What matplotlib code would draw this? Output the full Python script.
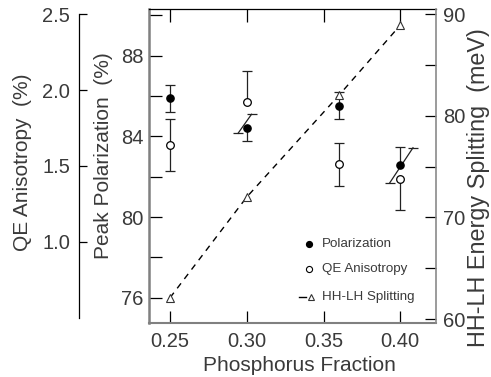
import numpy as np
import matplotlib
matplotlib.use("Agg")
import matplotlib.pyplot as plt
from matplotlib.ticker import FixedLocator

plt.rcParams['font.family'] = ['Liberation Sans', 'DejaVu Sans']

# ---------------- data ----------------
phosphorus = [0.25, 0.30, 0.36, 0.40]
polarization = [85.88, 84.43, 85.51, 82.58]
polarization_err = [0.66, 0.66, 0.66, 0.88]
qe_anisotropy = [1.64, 1.92, 1.51, 1.415]
qe_anisotropy_err = [0.17, 0.205, 0.14, 0.205]
splitting = [62.1, 72.0, 82.0, 88.9]

x_ticks = [0.25, 0.30, 0.35, 0.40]
x_tick_labels = ['0.25', '0.30', '0.35', '0.40']
pol_ticks = [76, 80, 84, 88]
pol_minor = [78, 82, 86, 90]
qe_ticks = [1.0, 1.5, 2.0, 2.5]
qe_tick_labels = ['1.0', '1.5', '2.0', '2.5']
split_ticks = [60, 70, 80, 90]
split_minor = [65, 75, 85]

legend_labels = ['Polarization', 'QE Anisotropy', 'HH-LH Splitting']

# ---------------- style ----------------
TXT = '#3a3a3a'
ERR = '#222222'
FS_TICK = 14.5
FS_LAB = 15
CAP = 6.5  # cap width in points
# which error-bar halves are drawn as a shared slanted segment
# (index, x-offset of lower end, x-offset of upper end)
slants = [(1, -0.0057, 0.0031), (3, -0.0068, 0.0083)]

fig = plt.figure(figsize=(4.91, 3.77), dpi=100)
ax = fig.add_axes([0.3035, 0.144, 0.5845, 0.832])
ax_r = ax.twinx()
ax_q = ax.twinx()

ax.set_xlim(0.2363, 0.4233)
ax.set_ylim(74.77, 90.30)
ax_r.set_ylim(59.64, 90.49)
ax_q.set_ylim(0.467, 2.534)

# ---- spines
for a in (ax_r, ax_q):
    for s in a.spines.values():
        s.set_visible(False)
ax.spines['left'].set_color('#808080'); ax.spines['left'].set_linewidth(1.8)
ax.spines['bottom'].set_color('#808080'); ax.spines['bottom'].set_linewidth(1.5)
ax.spines['top'].set_color('black'); ax.spines['top'].set_linewidth(0.9)
ax.spines['right'].set_visible(False)
ax_r.spines['right'].set_visible(True)
ax_r.spines['right'].set_color('#8a8a8a'); ax_r.spines['right'].set_linewidth(1.2)
ax_q.spines['left'].set_visible(True)
ax_q.spines['left'].set_position(('axes', -0.243))
ax_q.spines['left'].set_bounds(0.5, 2.5)
ax_q.spines['left'].set_color('black'); ax_q.spines['left'].set_linewidth(0.9)

# ---- ticks
ax.set_xticks(x_ticks)
ax.set_xticklabels(x_tick_labels)
ax.tick_params(axis='x', which='both', direction='in', top=True, bottom=True,
               length=9, width=0.9, labelsize=FS_TICK, labelcolor=TXT, pad=7)
ax.set_yticks(pol_ticks)
ax.yaxis.set_minor_locator(FixedLocator(pol_minor))
ax.tick_params(axis='y', which='both', direction='in', left=True, right=False,
               length=9, width=0.9, labelsize=FS_TICK, labelcolor=TXT, pad=4)

ax_r.set_yticks(split_ticks)
ax_r.yaxis.set_minor_locator(FixedLocator(split_minor))
ax_r.tick_params(axis='y', which='both', direction='in', length=8, width=0.9,
                 labelsize=FS_TICK, labelcolor=TXT, pad=5)

ax_q.yaxis.set_ticks_position('left')
ax_q.yaxis.set_label_position('left')
ax_q.set_yticks(qe_ticks)
ax_q.set_yticklabels(qe_tick_labels)
ax_q.tick_params(axis='y', which='both', direction='in', length=6, width=0.9,
                 labelsize=FS_TICK, labelcolor=TXT, pad=6.5)

# ---- labels
ax.set_xlabel('Phosphorus Fraction', fontsize=FS_LAB, color=TXT)
ax.xaxis.set_label_coords(0.525, -0.105)
ax.set_ylabel('Peak Polarization  (%)', fontsize=FS_LAB, color=TXT)
ax.yaxis.set_label_coords(-0.124, 0.533)
ax_q.set_ylabel('QE Anisotropy  (%)', fontsize=FS_LAB, color=TXT)
ax_q.yaxis.set_label_coords(-0.409, 0.51)
ax_r.set_ylabel('HH-LH Energy Splitting  (meV)', fontsize=16.8, color=TXT)
ax_r.yaxis.set_label_coords(1.108, 0.43)


def to_pol(v):
    """Convert a QE-axis value into Peak-Polarization axis units."""
    disp = ax_q.transData.transform((0.3, v))
    return ax.transData.inverted().transform(disp)[1]


def half_bar(a, x, y0, y1):
    a.plot([x, x], [y0, y1], color=ERR, lw=0.9, zorder=2, solid_capstyle='butt')
    a.plot([x], [y1], marker='_', ms=CAP, mew=0.9, color=ERR, zorder=2, ls='none')


slant_idx = {i: (lo, hi) for i, lo, hi in slants}

# ---- error bars
for i, x in enumerate(phosphorus):
    p, pe = polarization[i], polarization_err[i]
    q, qe = qe_anisotropy[i], qe_anisotropy_err[i]
    if i == 1:
        # open: upper vertical ; filled: lower vertical ; slant shared
        half_bar(ax_q, x, q, q + qe)
        half_bar(ax, x, p, p - pe)
        lo_dx, hi_dx = slant_idx[i]
        y_lo = to_pol(q - qe)
        y_hi = p + pe
        ax.plot([x + lo_dx, x + hi_dx], [y_lo, y_hi], color=ERR, lw=0.9, zorder=2)
        ax.plot([x + lo_dx, x + hi_dx], [y_lo, y_hi], marker='_', ms=CAP, mew=0.9,
                color=ERR, ls='none', zorder=2)
    elif i == 3:
        # filled: upper vertical ; open: lower vertical ; slant shared
        half_bar(ax, x, p, p + pe)
        half_bar(ax_q, x, q, q - qe)
        lo_dx, hi_dx = slant_idx[i]
        y_lo = p - pe
        y_hi = to_pol(q + qe)
        ax.plot([x + lo_dx, x + hi_dx], [y_lo, y_hi], color=ERR, lw=0.9, zorder=2)
        ax.plot([x + lo_dx, x + hi_dx], [y_lo, y_hi], marker='_', ms=CAP, mew=0.9,
                color=ERR, ls='none', zorder=2)
    else:
        half_bar(ax, x, p, p + pe)
        half_bar(ax, x, p, p - pe)
        half_bar(ax_q, x, q, q + qe)
        half_bar(ax_q, x, q, q - qe)

# ---- markers
ax.plot(phosphorus, polarization, 'o', ms=5.2, color='black', zorder=3)
ax_q.plot(phosphorus, qe_anisotropy, 'o', ms=5.5, mfc='white', mec='black',
          mew=0.9, zorder=3)
ax_r.plot(phosphorus, splitting, color='black', lw=1.0, ls=(0, (4.5, 4)),
          marker='^', ms=6, mfc='white', mec='#333333', mew=0.8, zorder=3)

# ---- legend (drawn manually in axes fraction)
tr = ax_r.transAxes
rows_y = [0.251, 0.171, 0.083]
ax_r.plot([0.559], [rows_y[0]], 'o', ms=4.2, color='black', transform=tr, clip_on=False)
ax_r.plot([0.559], [rows_y[1]], 'o', ms=4.4, mfc='white', mec='black', mew=0.8,
          transform=tr, clip_on=False)
ax_r.plot([0.524, 0.546], [rows_y[2], rows_y[2]], color='black', lw=1.0,
          transform=tr, clip_on=False)
ax_r.plot([0.564], [rows_y[2]], '^', ms=5, mfc='white', mec='#333333', mew=0.8,
          transform=tr, clip_on=False)
for yy, lab in zip(rows_y, legend_labels):
    ax_r.text(0.602, yy, lab, transform=tr, fontsize=9.6, color=TXT,
              ha='left', va='center')

fig.savefig('out.png', dpi=100)
